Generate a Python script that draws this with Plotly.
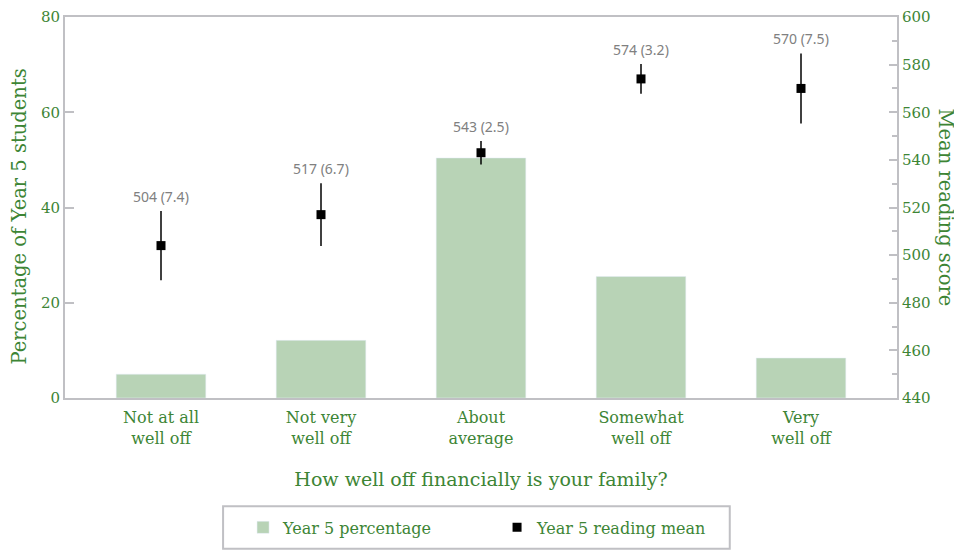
import plotly.graph_objects as go

categories = ["Not at all<br>well off", "Not very<br>well off", "About<br>average",
              "Somewhat<br>well off", "Very<br>well off"]
pct = [5.0, 12.1, 50.4, 25.5, 8.4]
mean_score = [504, 517, 543, 574, 570]
se = [7.4, 6.7, 2.5, 3.2, 7.5]

green = "#3d8535"
bar_green = "#b8d3b6"
grey_line = "#c0c0c4"
serif = "DejaVu Serif"

ci = [1.96 * s for s in se]
idx = list(range(len(categories)))

fig = go.Figure()
fig.add_trace(go.Bar(x=idx, y=pct, name="Year 5 percentage",
                     marker_color=bar_green, width=0.56))
fig.add_trace(go.Scatter(x=idx, y=mean_score, name="Year 5 reading mean", yaxis="y2",
                         mode="markers",
                         marker=dict(symbol="square", size=9, color="black"),
                         error_y=dict(type="data", array=ci, color="black",
                                      thickness=1.5, width=0)))

for i in idx:
    fig.add_annotation(x=i, y=mean_score[i] + ci[i], yref="y2",
                       text=f"{mean_score[i]} ({se[i]})", showarrow=False,
                       yanchor="bottom", yshift=3,
                       font=dict(family="Noto Sans", size=14, color="#808080"))

# axis titles as annotations (right one reads top-to-bottom)
fig.add_annotation(text="Percentage of Year 5 students", xref="paper", yref="paper",
                   x=0, y=0.5, xshift=-46, yshift=-9, xanchor="center", yanchor="middle",
                   textangle=-90, showarrow=False,
                   font=dict(family=serif, size=19.5, color=green))
fig.add_annotation(text="Mean reading score", xref="paper", yref="paper",
                   x=1, y=0.5, xshift=48, xanchor="center", yanchor="middle",
                   textangle=90, showarrow=False,
                   font=dict(family=serif, size=19.5, color=green))

# legend frame
fig.add_shape(type="rect", xref="paper", yref="paper",
              x0=0.190, x1=0.799, y0=-0.3958, y1=-0.2839,
              line=dict(color=grey_line, width=2), fillcolor="white")

# page has an 8px body margin, so the figure is a bit smaller than the window
fig.update_layout(
    width=954, height=546,
    margin=dict(l=57, r=65, t=9, b=153),
    plot_bgcolor="white", paper_bgcolor="white",
    xaxis=dict(range=[-0.6, 4.6], tickmode="array", tickvals=idx, ticktext=categories,
               showline=True, linecolor=grey_line, linewidth=2, mirror=True,
               ticks="", showgrid=False, zeroline=False, automargin=False,
               ticklabelstandoff=4,
               tickfont=dict(family=serif, size=16, color=green),
               title=dict(text="How well off financially is your family?",
                          font=dict(family=serif, size=19, color=green), standoff=26)),
    yaxis=dict(range=[0, 80], dtick=20, showline=True, linecolor=grey_line, linewidth=2,
               ticks="inside", ticklen=9, tickwidth=2, tickcolor=grey_line,
               showgrid=False, zeroline=False, automargin=False,
               tickfont=dict(family=serif, size=15, color=green)),
    yaxis2=dict(range=[440, 600], dtick=20, overlaying="y", side="right",
                showline=True, linecolor=grey_line, linewidth=2,
                ticks="inside", ticklen=8, tickwidth=2, tickcolor=grey_line,
                minor=dict(dtick=10, ticks="inside", ticklen=5, tickwidth=2,
                           tickcolor=grey_line),
                showgrid=False, zeroline=False, automargin=False,
                tickfont=dict(family=serif, size=15, color=green)),
    legend=dict(orientation="h", x=0.214, xanchor="left", y=-0.3398, yanchor="middle",
                borderwidth=0, bgcolor="rgba(0,0,0,0)",
                font=dict(family=serif, size=16, color=green),
                entrywidth=209, itemwidth=30),
    showlegend=True,
)

fig.write_html("out.html")
